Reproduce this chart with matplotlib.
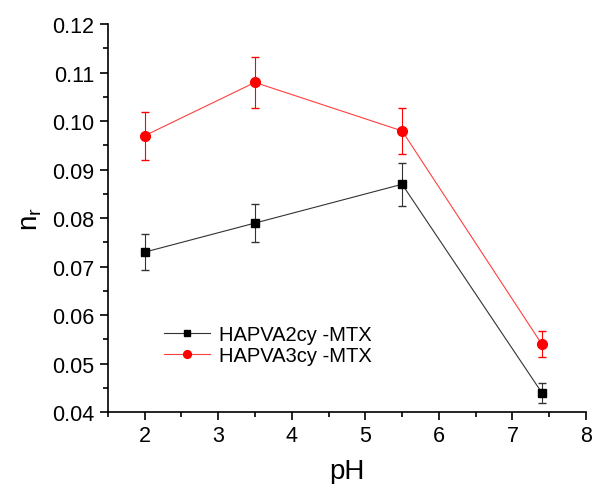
import matplotlib.pyplot as plt
from matplotlib.ticker import MultipleLocator

ph = [2, 3.5, 5.5, 7.4]
nr_2cy = [0.073, 0.079, 0.087, 0.044]
err_2cy = [0.0037, 0.0039, 0.0044, 0.0021]
nr_3cy = [0.097, 0.108, 0.098, 0.054]
err_3cy = [0.0049, 0.0053, 0.0048, 0.0027]

plt.rcParams['font.family'] = ['Liberation Sans', 'DejaVu Sans']

fig = plt.figure(figsize=(5.92, 4.85), dpi=100)
ax = fig.add_axes([0.182, 0.148, 0.808, 0.80])

# error bars first, then the lines + markers (used for the legend)
ax.errorbar(ph, nr_2cy, yerr=err_2cy, fmt='none', ecolor='#333333',
            capsize=3, elinewidth=0.8)
ax.errorbar(ph, nr_3cy, yerr=err_3cy, fmt='none', ecolor='red',
            capsize=3, elinewidth=0.8)
ax.plot(ph, nr_2cy, color='#333333', lw=0.8, marker='s', ms=6,
        mfc='black', mec='black', label='HAPVA2cy -MTX')
ax.plot(ph, nr_3cy, color='#ff4040', lw=0.8, marker='o', ms=7,
        mfc='red', mec='red', label='HAPVA3cy -MTX')

ax.set_xlim(1.5, 8)
ax.set_ylim(0.04, 0.12)
ax.xaxis.set_major_locator(MultipleLocator(1))
ax.xaxis.set_minor_locator(MultipleLocator(0.5))
ax.yaxis.set_major_locator(MultipleLocator(0.01))
ax.yaxis.set_minor_locator(MultipleLocator(0.005))
ax.yaxis.set_major_formatter(plt.FormatStrFormatter('%.2f'))
ax.tick_params(which='major', direction='out', length=6, width=1.2,
               labelsize=15.5)
ax.tick_params(which='minor', direction='out', length=3.5, width=1.2)
for s in ['top', 'right']:
    ax.spines[s].set_visible(False)
for s in ['left', 'bottom']:
    ax.spines[s].set_linewidth(1.2)

ax.set_xlabel('pH', fontsize=20, labelpad=8)
ax.set_ylabel('n$_\\mathregular{r}$', fontsize=20, labelpad=6)

leg = ax.legend(loc='lower left', bbox_to_anchor=(0.08, 0.075), frameon=False,
                fontsize=14.5, handlelength=2.3, handletextpad=0.4,
                labelspacing=0.1, markerscale=0.8)

fig.savefig('out.png', dpi=100)
